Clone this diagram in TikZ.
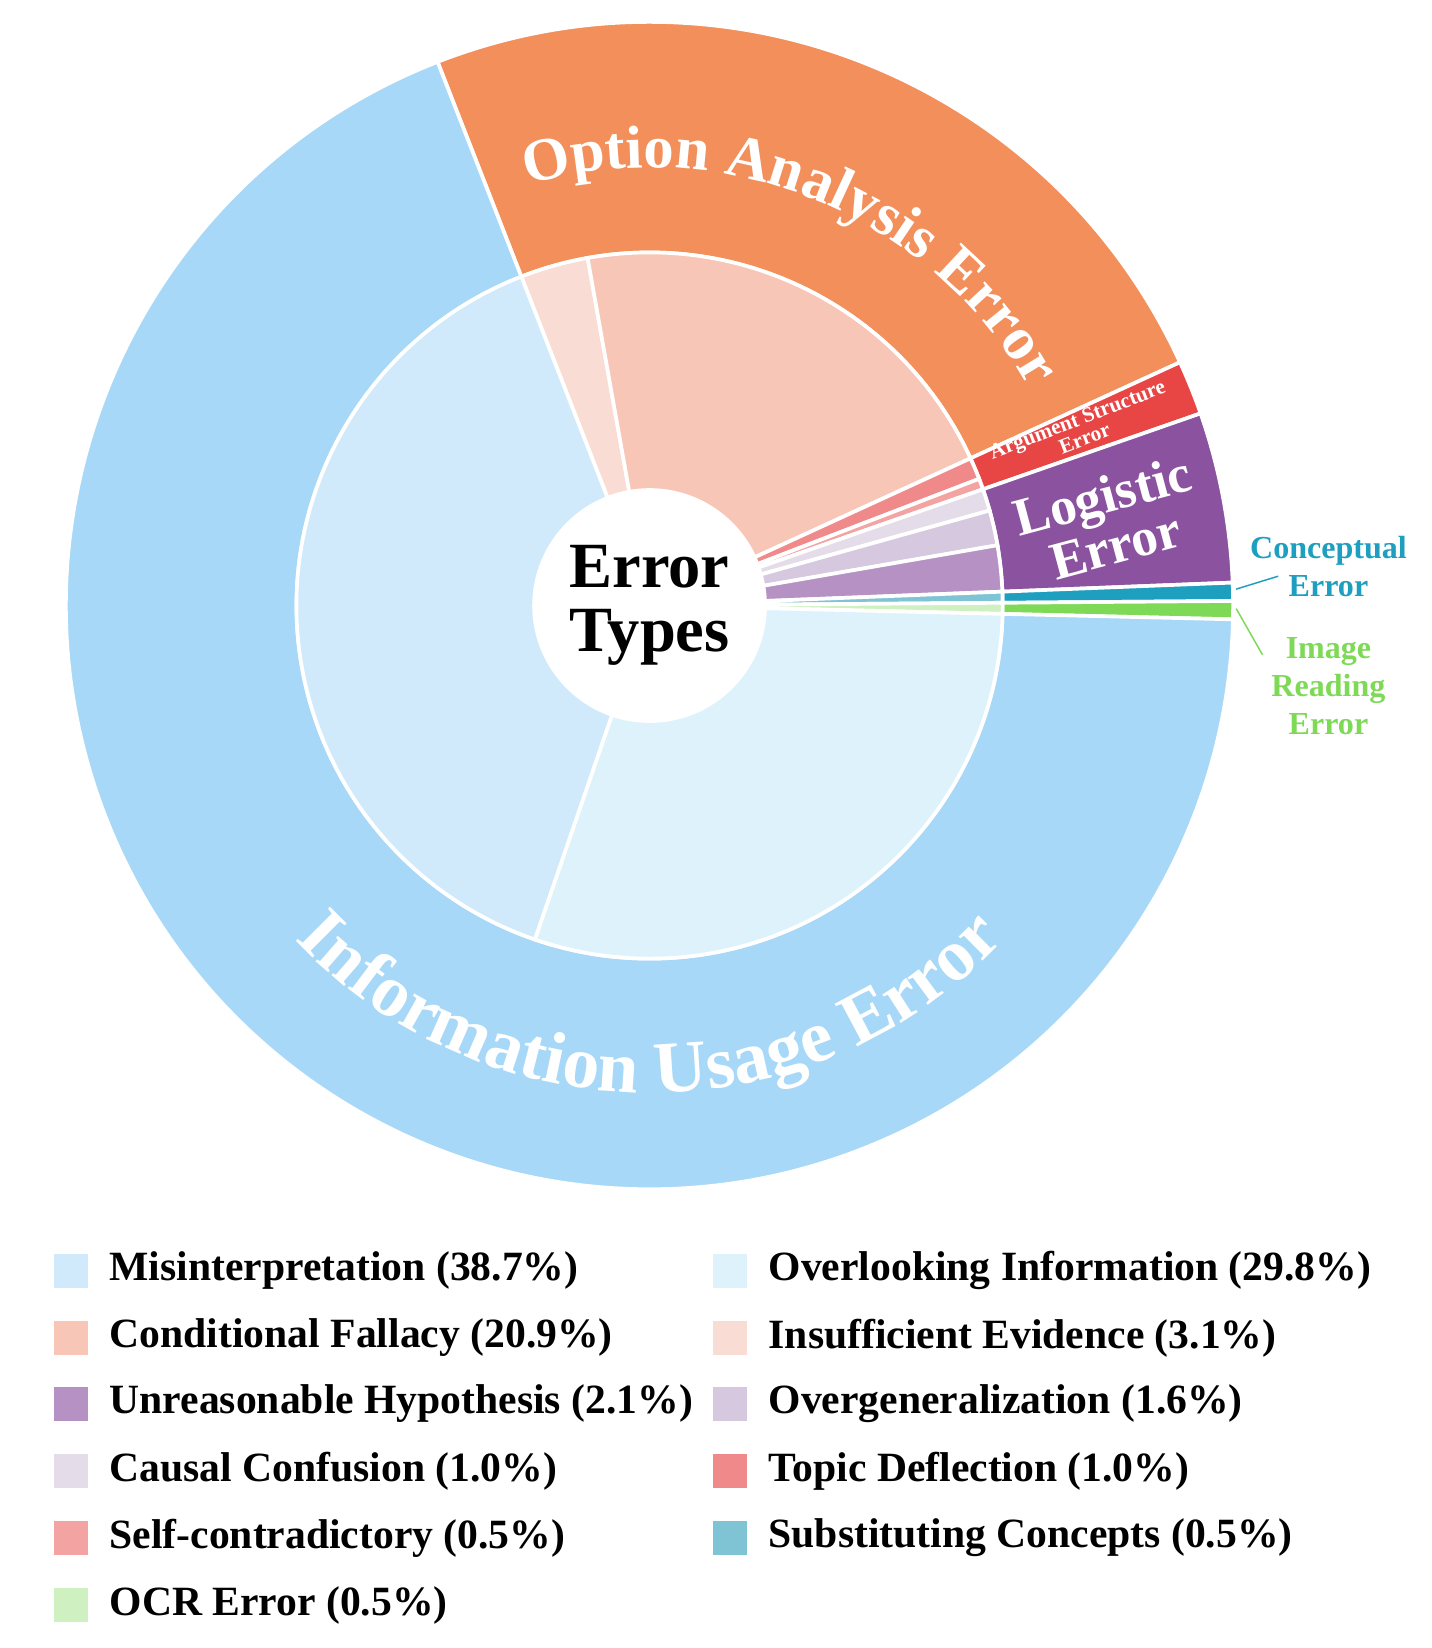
\documentclass[tikz,border=0pt]{standalone}
\usepackage{fontspec}
\setmainfont{Liberation Serif}
\usetikzlibrary{decorations.text}
\definecolor{info}{HTML}{A8D8F8}
\definecolor{optan}{HTML}{F28F5B}
\definecolor{argst}{HTML}{E84545}
\definecolor{logis}{HTML}{8B52A0}
\definecolor{concep}{HTML}{1E9FC0}
\definecolor{imgread}{HTML}{7ED957}
\definecolor{misint}{HTML}{D0EAFB}
\definecolor{overl}{HTML}{DDF2FB}
\definecolor{condf}{HTML}{F7C6B6}
\definecolor{insuf}{HTML}{F9DDD4}
\definecolor{unreas}{HTML}{B692C4}
\definecolor{overg}{HTML}{D6C8DF}
\definecolor{causal}{HTML}{E4DCE8}
\definecolor{topic}{HTML}{F08A8A}
\definecolor{selfc}{HTML}{F4A3A3}
\definecolor{subst}{HTML}{7FC4D4}
\definecolor{ocr}{HTML}{CFF0C0}
\newcommand{\ringpart}[5]{%
  \fill[#5, draw=white, line width=1pt] (#1:#3) arc[start angle=#1, end angle=#2, radius=#3]
    -- (#2:#4) arc[start angle=#2, end angle=#1, radius=#4] -- cycle;}
\begin{document}
\begin{tikzpicture}[
    x=0.01cm, y=0.01cm,
    legbox/.style={minimum size=0.32cm, inner sep=0pt},
    legtext/.style={anchor=west, font=\fontsize{11.3}{13}\selectfont\bfseries, inner sep=0pt},
]
\useasboundingbox (0,0) rectangle (1366,1573);

\begin{scope}[shift={(620,995)}]
% Outer ring
\foreach \p/\c [remember=\e as \s (initially 111.3), evaluate=\p as \e using \s-\p*3.6108] in
    {24/optan, 1.5/argst, 4.7/logis, 0.5/concep, 0.5/imgread, 68.5/info} {
    \ringpart{\s}{\e}{337}{557}{\c}
}
% Inner ring
\foreach \p/\c [remember=\e as \s (initially 111.3), evaluate=\p as \e using \s-\p*3.6108] in
    {3.1/insuf, 20.9/condf, 1.0/topic, 0.5/selfc, 1.0/causal, 1.6/overg, 2.1/unreas,
     0.5/subst, 0.5/ocr, 29.8/overl, 38.7/misint} {
    \ringpart{\s}{\e}{0}{337}{\c}
}
\fill[white] (0,0) circle[radius=112];
\node[align=center, font=\fontsize{17.5}{17.5}\selectfont\bfseries] (center) at (0,0) {Error\\Types};

% Curved labels
\path[decorate, decoration={text along path, text align=center,
    text={|\fontsize{16.5}{16.5}\selectfont\bfseries\color{white}|Option Analysis Error}}]
    (112:418) arc[start angle=112, end angle=24, radius=418];
\path[decorate, decoration={text along path, text align=center,
    text={|\fontsize{20}{20}\selectfont\bfseries\color{white}|Information Usage Error}}]
    (210:465) arc[start angle=210, end angle=330, radius=465];
\node[rotate=15, white, align=center, font=\fontsize{14.5}{14}\selectfont\bfseries] (logistic) at (10.5:446) {Logistic\\Error};
\node[rotate=21, white, align=center, font=\fontsize{5.8}{5.5}\selectfont\bfseries] (argument) at (22.3:445) {Argument Structure\\Error};

% Outside labels
\coordinate (cpin) at (1.6:560);
\coordinate (ipin) at (-0.3:560);
\node[concep, align=center, font=\fontsize{8.7}{10.3}\selectfont\bfseries] (conceptual) at (648,37) {Conceptual\\Error};
\node[imgread, align=center, font=\fontsize{8.7}{10.3}\selectfont\bfseries] (imagereading) at (648,-77) {Image\\Reading\\Error};
\draw[concep] (cpin) -- (600,28);
\draw[imgread] (ipin) -- (585,-47);
\end{scope}

% Legend
\foreach \c/\t/\x/\y in {
    misint/Misinterpretation (38.7\%)/68/1213, overl/Overlooking Information (29.8\%)/697/1213,
    condf/Conditional Fallacy (20.9\%)/68/1277, insuf/Insufficient Evidence (3.1\%)/697/1277,
    unreas/Unreasonable Hypothesis (2.1\%)/68/1340, overg/Overgeneralization (1.6\%)/697/1340,
    causal/Causal Confusion (1.0\%)/68/1404, topic/Topic Deflection (1.0\%)/697/1404,
    selfc/Self-contradictory (0.5\%)/68/1468, subst/Substituting Concepts (0.5\%)/697/1468,
    ocr/OCR Error (0.5\%)/68/1532} {
    \node[legbox, fill=\c] (box\c) at (\x,1573-\y) {};
    \node[legtext] (lab\c) at (\x+36,1573-\y) {\t};
}
\end{tikzpicture}
\end{document}
